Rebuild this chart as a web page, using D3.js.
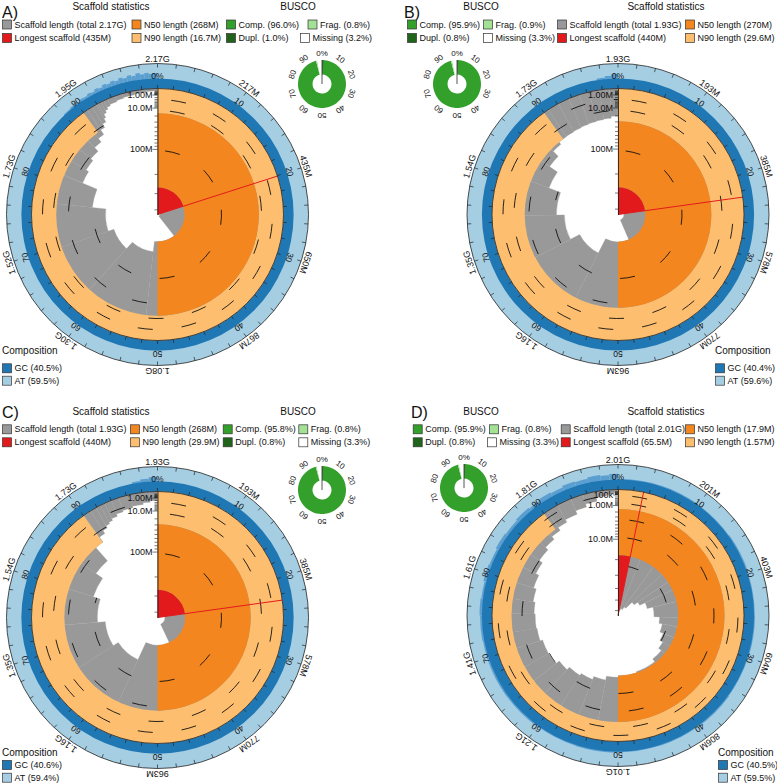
<!DOCTYPE html>
<html><head><meta charset="utf-8">
<script src="https://cdn.jsdelivr.net/npm/d3@7"></script>
<style>
body{margin:0;background:#fff}
svg{font-family:"Liberation Sans",Arial,Helvetica,sans-serif}
</style>
</head><body>
<svg id="chart" width="777" height="784"></svg>
<script>
// ---------------- DATA ----------------
const panelNames = ["A)", "B)", "C)", "D)"];
const totalMb = [2168, 1930, 1930, 2010];
const totalText = ["2.17G", "1.93G", "1.93G", "2.01G"];
const longestMb = [435, 440, 440, 65.5];
const n50Mb = [268, 270, 268, 17.9];
const n90Mb = [16.7, 29.6, 29.9, 1.57];
const gcPct = [40.5, 40.4, 40.6, 40.5];
const atPct = [59.5, 59.6, 59.4, 59.5];
const buscoComp = [96.0, 95.9, 95.8, 95.9];
const buscoFrag = [0.8, 0.9, 0.8, 0.8];
const buscoDupl = [1.0, 0.8, 0.8, 0.8];
const buscoMissing = [3.2, 3.3, 3.3, 3.3];

const ringLabelsA = ["2.17G", "217M", "435M", "650M", "867M", "1.08G", "1.30G", "1.52G", "1.73G", "1.95G"];
const ringLabelsB = ["1.93G", "193M", "385M", "578M", "770M", "963M", "1.16G", "1.35G", "1.54G", "1.73G"];
const ringLabelsC = ["1.93G", "193M", "385M", "578M", "770M", "963M", "1.16G", "1.35G", "1.54G", "1.73G"];
const ringLabelsD = ["2.01G", "201M", "403M", "604M", "806M", "1.01G", "1.21G", "1.41G", "1.61G", "1.81G"];
const pctLabels = ["0%", "10", "20", "30", "40", "50", "60", "70", "80", "90"];

// largest scaffolds (Mb), in size order
const bigScaffoldsA = [435, 420, 268, 215, 175, 150, 100, 55, 48, 42, 32, 24, 16, 11];
const bigScaffoldsB = [440, 400, 270, 190, 145, 115, 75, 50, 35, 29.6, 29, 28, 27, 26, 25, 24, 21];
const bigScaffoldsC = [440, 390, 268, 175, 150, 120, 95, 70, 29.9, 20, 15, 12, 10];
const bigScaffoldsD = [65.5];
// remaining length profile: [cumulative % , scaffold length Mb]
const tailA = [[91.9, 7], [92.2, 4], [92.6, 2.5], [93.0, 1.5], [93.5, 1.0], [94.5, 0.7], [95.5, 0.45], [97, 0.3], [98.5, 0.18], [99.5, 0.1]];
const tailB = [[99.9, 2]];
const tailC = [[93.1, 8], [94, 6], [95, 5], [96.5, 4], [98, 3], [99, 2.2]];
const tailD = [[3.26, 60], [6, 58], [10, 55], [13, 47], [15.6, 43], [18, 38], [21.3, 33.4], [25.6, 29.3], [28, 27], [31, 24.7],
  [33.5, 22.5], [35.8, 20.4], [39.3, 18.5], [45, 17.8], [50, 17.0], [53, 15], [56, 13.5], [59, 12.5], [62, 11], [64.5, 9.5],
  [67, 9], [70, 8.0], [72.5, 7.7], [75.3, 7.3], [77.5, 6.6], [80, 5.7], [82.5, 4.7], [84.7, 3.7], [87, 2.9], [88.9, 2.2],
  [90.5, 1.6], [92, 1.15], [93.9, 0.7], [95.5, 0.4], [97.1, 0.15], [98.5, 0.08], [99.5, 0.04]];

// GC maximum per window (%), at cumulative %, for the noisy part of the composition ring
const gcNoiseA = [[88, 44], [89, 47], [90, 45], [90.5, 50], [91, 48], [91.5, 53], [92, 49], [92.5, 56], [93, 52], [93.5, 58], [94, 54],
  [94.5, 60], [95, 55], [95.5, 62], [96, 57], [96.5, 64], [97, 58], [97.5, 66], [98, 60], [98.5, 64], [99, 59], [99.5, 62]];
const gcNoiseB = [[97.5, 46], [98.5, 52], [99.2, 58]];
const gcNoiseC = [[97, 46], [98, 52], [99, 58]];
const gcNoiseD = [[0, 43], [5, 44], [10, 43], [15, 45], [20, 43], [25, 44], [30, 43], [35, 45], [40, 44], [45, 43], [50, 45], [55, 44],
  [60, 46], [65, 47], [70, 46], [72, 48], [75, 50], [77, 47], [79, 52], [81, 49], [83, 54], [85, 51], [87, 56],
  [89, 52], [90.5, 58], [92, 54], [93.5, 60], [95, 56], [96.5, 62], [98, 58], [99, 63]];

// ---------------- DRAWING ----------------
const COL = {orange: "#f4861f", pale: "#fdbf6f", red: "#e31a1c", gray: "#999999", gc: "#1f78b4", at: "#a6cee3",
  gcMid: "#5b9fd1", comp: "#33a02c", dupl: "#20641c", frag: "#a3e194", missing: "#ffffff"};
const svg = d3.select("#chart");

// scale-line rings: [radius, start %]
const panels = [
  {cx: 157.5, cy: 214.5, busco: [322, 84], big: bigScaffoldsA, tail: tailA, ring: ringLabelsA, noise: gcNoiseA,
    rings: [[64, 0], [89, 50], [104, 0], [115, 0]], axisLab: [1, 10, 100], minTick: 0.1},
  {cx: 618, cy: 214.5, busco: [457, 84], big: bigScaffoldsB, tail: tailB, ring: ringLabelsB, noise: gcNoiseB,
    rings: [[64, 0], [89, 50], [104, 0], [115, 0]], axisLab: [1, 10, 100], minTick: 0.1},
  {cx: 157.5, cy: 617.5, busco: [322, 490], big: bigScaffoldsC, tail: tailC, ring: ringLabelsC, noise: gcNoiseC,
    rings: [[64, 0], [89, 50], [104, 0], [115, 0]], axisLab: [1, 10, 100], minTick: 0.1},
  {cx: 618, cy: 615.5, busco: [464, 488], big: bigScaffoldsD, tail: tailD, ring: ringLabelsD, noise: gcNoiseD,
    rings: [[50, 0], [78, 0], [96, 0], [112, 0], [120, 0]], axisLab: [0.1, 1, 10], minTick: 0.01}
];

const R0 = 126, RO = 151, W = RO - R0;
const arc = d3.arc();
const ang = d3.scaleLinear().domain([0, 100]).range([0, 2 * Math.PI]);
const fmtLen = d3.format(".3s");

function buildProfile(big, tail, total) {
  const prof = [];
  let cum = 0;
  big.forEach(L => { prof.push([cum / total * 100, L]); cum += L; });
  tail.forEach(t => { if (t[0] >= cum / total * 100 - 0.01 || big.length === 1) prof.push(t); });
  return prof;
}

panels.forEach((p, i) => {
  const total = totalMb[i], Lmax = longestMb[i];
  const g = svg.append("g").attr("transform", `translate(${p.cx},${p.cy})`);
  const s = d3.scaleSqrt().domain([0, Lmax]).range([0, R0]);
  const inner = L => R0 - s(Math.min(L, Lmax));
  const prof = buildProfile(p.big, p.tail, total);
  const steps = prof.map((d, k) => ({a0: d[0], a1: k < prof.length - 1 ? prof[k + 1][0] : 100, L: d[1]}));

  // composition ring
  g.append("path").attr("d", arc({innerRadius: R0, outerRadius: RO, startAngle: 0, endAngle: 2 * Math.PI})).attr("fill", COL.at);
  const gcR = R0 + W * gcPct[i] / 100;
  const noiseSteps = p.noise.map((d, k) => ({a0: d[0], a1: k < p.noise.length - 1 ? p.noise[k + 1][0] : 100, v: d[1]}));
  g.selectAll(".noise").data(noiseSteps).enter().append("path")
    .attr("d", d => arc({innerRadius: R0, outerRadius: R0 + W * d.v / 100, startAngle: ang(d.a0), endAngle: ang(d.a1)}))
    .attr("fill", COL.gcMid);
  g.append("path").attr("d", arc({innerRadius: R0, outerRadius: gcR, startAngle: 0, endAngle: 2 * Math.PI})).attr("fill", COL.gc);

  // scaffold length area (grey)
  const area = g.append("g");
  area.selectAll("path").data(steps).enter().append("path")
    .attr("d", d => arc({innerRadius: inner(d.L), outerRadius: R0, startAngle: ang(d.a0), endAngle: ang(d.a1)}))
    .attr("fill", COL.gray).attr("stroke", COL.gray).attr("stroke-width", 0.3);
  const cid = "clip" + i;
  const cp = g.append("clipPath").attr("id", cid);
  cp.selectAll("path").data(steps).enter().append("path")
    .attr("d", d => arc({innerRadius: inner(d.L), outerRadius: R0, startAngle: ang(d.a0), endAngle: ang(d.a1)}));

  // N90 / N50 / longest
  g.append("path").attr("d", arc({innerRadius: inner(n90Mb[i]), outerRadius: R0, startAngle: 0, endAngle: ang(90)})).attr("fill", COL.pale);
  g.append("path").attr("d", arc({innerRadius: inner(n50Mb[i]), outerRadius: inner(n90Mb[i]), startAngle: 0, endAngle: ang(50)})).attr("fill", COL.orange);
  const longAng = ang(Lmax / total * 100);

  // scale lines (dashed arcs)
  const dl = g.append("g").attr("clip-path", `url(#${cid})`);
  p.rings.forEach(([r, st]) => {
    const pth = d3.path();
    pth.arc(0, 0, r, ang(st) - Math.PI / 2 + 0.12, 1.5 * Math.PI);
    dl.append("path").attr("d", pth.toString()).attr("fill", "none").attr("stroke", "#111").attr("stroke-width", 0.9)
      .attr("stroke-dasharray", "15 29");
  });
  g.append("path").attr("d", arc({innerRadius: 0, outerRadius: inner(n50Mb[i]), startAngle: 0, endAngle: longAng})).attr("fill", COL.red);

  // longest scaffold line
  const pe = d3.pointRadial(longAng, R0);
  g.append("line").attr("x1", 0).attr("y1", 0).attr("x2", pe[0]).attr("y2", pe[1]).attr("stroke", COL.red).attr("stroke-width", 1);

  // circles
  g.append("circle").attr("r", R0).attr("fill", "none").attr("stroke", "#222").attr("stroke-width", 0.8);
  g.append("circle").attr("r", RO).attr("fill", "none").attr("stroke", "#222").attr("stroke-width", 0.8);
  const tk = d3.range(0, 100, 2);
  g.selectAll(".tko").data(tk).enter().append("line")
    .attr("x1", d => d3.pointRadial(ang(d), RO)[0]).attr("y1", d => d3.pointRadial(ang(d), RO)[1])
    .attr("x2", d => d3.pointRadial(ang(d), RO - 4)[0]).attr("y2", d => d3.pointRadial(ang(d), RO - 4)[1])
    .attr("stroke", "#222").attr("stroke-width", 0.7);
  g.selectAll(".tki").data(tk).enter().append("line")
    .attr("x1", d => d3.pointRadial(ang(d), R0)[0]).attr("y1", d => d3.pointRadial(ang(d), R0)[1])
    .attr("x2", d => d3.pointRadial(ang(d), R0 + 3.5)[0]).attr("y2", d => d3.pointRadial(ang(d), R0 + 3.5)[1])
    .attr("stroke", "#222").attr("stroke-width", 0.7);
  p.ring.forEach((t, k) => {
    g.append("text").attr("transform", `rotate(${k * 36}) translate(0,${-(RO + 5)})`)
      .attr("text-anchor", "middle").attr("dominant-baseline", "central").attr("font-size", 9).attr("fill", "#111").text(t);
  });
  pctLabels.forEach((t, k) => {
    g.append("text").attr("transform", `rotate(${k * 36}) translate(0,${-(R0 + 13)})`)
      .attr("text-anchor", "middle").attr("dominant-baseline", "central").attr("font-size", 8.5).attr("fill", "#111").text(t);
  });

  // radial length axis
  const yAx = d3.scaleSqrt().domain([0, Lmax]).range([-R0, 0]);
  const tv = d3.scaleLog().domain([p.minTick, Lmax]).ticks().filter(v => v <= Lmax);
  const axG = g.append("g").call(d3.axisLeft(yAx).tickValues(tv).tickSize(3).tickSizeOuter(0)
    .tickFormat(v => p.axisLab.some(x => Math.abs(x - v) < 1e-9) ? fmtLen(v * 1e6) : ""));
  axG.select(".domain").attr("stroke", "#222").attr("stroke-width", 0.9);
  axG.selectAll(".tick line").attr("stroke", "#222").attr("stroke-width", 0.6)
    .attr("x2", v => p.axisLab.some(x => Math.abs(x - v) < 1e-9) ? -5 : -3);
  axG.selectAll(".tick text").attr("font-size", 9).attr("font-family", "Liberation Sans, Arial, sans-serif").attr("fill", "#111").attr("x", -5);

  // BUSCO donut
  const bg = svg.append("g").attr("transform", `translate(${p.busco[0]},${p.busco[1]})`);
  const c = buscoComp[i], f = buscoFrag[i];
  const segs = [
    {a0: 0, a1: c, col: COL.comp},
    {a0: 0, a1: buscoDupl[i], col: COL.dupl},
    {a0: c, a1: c + f, col: COL.frag},
    {a0: c + f, a1: 100, col: COL.missing}
  ];
  bg.selectAll("path").data(segs).enter().append("path")
    .attr("d", d => arc({innerRadius: 9.5, outerRadius: 24, startAngle: ang(d.a0), endAngle: ang(d.a1)}))
    .attr("fill", d => d.col);
  bg.append("line").attr("x1", 0).attr("y1", 0).attr("x2", 0).attr("y2", -24).attr("stroke", "#555").attr("stroke-width", 1);
  pctLabels.forEach((t, k) => {
    bg.append("text").attr("transform", `rotate(${k * 36}) translate(0,-31)`)
      .attr("text-anchor", "middle").attr("dominant-baseline", "central").attr("font-size", 8).attr("fill", "#111").text(t);
  });
});

// ---------------- LEGENDS ----------------
function sq(x, yc, col) {
  svg.append("rect").attr("x", x + 0.5).attr("y", yc - 4.5).attr("width", 9).attr("height", 9)
    .attr("fill", col).attr("stroke", "#333").attr("stroke-width", 0.7);
}
function txt(x, yc, t, size, anchor) {
  svg.append("text").attr("x", x).attr("y", yc).attr("dominant-baseline", "central")
    .attr("font-size", size).attr("text-anchor", anchor || "start").attr("fill", "#111").text(t);
}
function item(x, yc, col, t) { sq(x, yc, col); txt(x + 12.5, yc, t, 9); }

const legendLayouts = [
  {name: [2, 12], y: [6.5, 24.5, 38], tS: 111, tB: 298,
    S: [[2, 0], [131.5, 0], [2, 1], [131.5, 1]], B: [[226, 0], [307.5, 0], [226, 1], [300, 1]], comp: [2, 350.5, 368.3, 380.7]},
  {name: [404, 12], y: [6.5, 24.5, 38], tS: 666, tB: 481,
    S: [[557, 0], [685, 0], [557, 1], [685, 1]], B: [[407, 0], [483, 0], [407, 1], [483, 1]], comp: [715, 350.5, 368.3, 380.7]},
  {name: [2, 412], y: [411.7, 429.3, 442.3], tS: 111, tB: 298,
    S: [[2, 0], [130, 0], [2, 1], [130, 1]], B: [[222.7, 0], [298.3, 0], [222.7, 1], [298.3, 1]], comp: [2, 752.3, 765, 777.7]},
  {name: [411, 412], y: [411.7, 429.3, 442.3], tS: 666, tB: 481,
    S: [[560.7, 0], [685, 0], [560.7, 1], [685, 1]], B: [[412.7, 0], [489, 0], [412.7, 1], [487, 1]], comp: [718, 752.3, 765, 777.7]}
];

legendLayouts.forEach((L, i) => {
  svg.append("text").attr("x", L.name[0]).attr("y", L.name[1]).attr("font-size", 16).attr("fill", "#111")
    .attr("dominant-baseline", "central").text(panelNames[i]);
  txt(L.tS, L.y[0], "Scaffold statistics", 10, "middle");
  txt(L.tB, L.y[0], "BUSCO", 10, "middle");
  const sItems = [
    [COL.gray, `Scaffold length (total ${totalText[i]})`],
    [COL.orange, `N50 length (${fmtLen(n50Mb[i] * 1e6)})`],
    [COL.red, `Longest scaffold (${fmtLen(longestMb[i] * 1e6)})`],
    [COL.pale, `N90 length (${fmtLen(n90Mb[i] * 1e6)})`]
  ];
  sItems.forEach((it, k) => item(L.S[k][0], L.y[1 + L.S[k][1]], it[0], it[1]));
  const bItems = [
    [COL.comp, `Comp. (${buscoComp[i].toFixed(1)}%)`],
    [COL.frag, `Frag. (${buscoFrag[i].toFixed(1)}%)`],
    [COL.dupl, `Dupl. (${buscoDupl[i].toFixed(1)}%)`],
    [COL.missing, `Missing (${buscoMissing[i].toFixed(1)}%)`]
  ];
  bItems.forEach((it, k) => item(L.B[k][0], L.y[1 + L.B[k][1]], it[0], it[1]));
  txt(L.comp[0], L.comp[1], "Composition", 10);
  item(L.comp[0], L.comp[2], COL.gc, `GC (${gcPct[i].toFixed(1)}%)`);
  item(L.comp[0], L.comp[3], COL.at, `AT (${atPct[i].toFixed(1)}%)`);
});
</script>
</body></html>
